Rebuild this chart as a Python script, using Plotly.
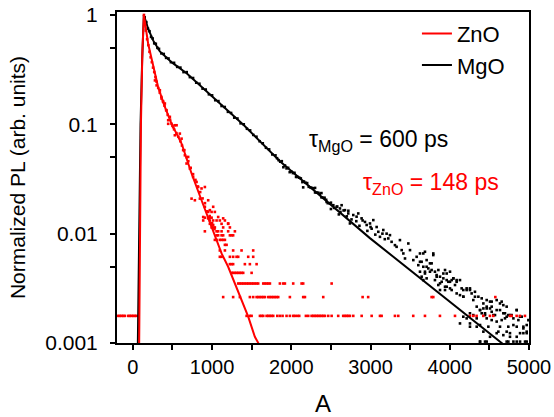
import plotly.graph_objects as go

# ---------------- data ----------------
# Fitted decay curves
zno_fit_x = [80, 90, 102, 120, 139, 193, 256, 319, 404, 489, 615, 741, 867, 994, 1120, 1203, 1351, 1456, 1540, 1582, 1600]
zno_fit_y = [0.001, 0.01, 0.1, 0.45, 1.0, 0.546, 0.333, 0.219, 0.144, 0.101, 0.0667, 0.0355, 0.0202, 0.0115,
             0.00659, 0.00498, 0.00265, 0.00174, 0.00114, 0.001, 0.00095]

mgo_fit_x = [63, 80, 97, 118, 139, 193, 256, 341, 492, 682, 947, 1174, 1402, 1856, 2509, 2992, 4655, 4800]
mgo_fit_y = [0.001, 0.01, 0.1, 0.4, 1.0, 0.748, 0.585, 0.464, 0.368, 0.292, 0.196, 0.138, 0.098, 0.046,
             0.0182, 0.0091, 0.001, 0.00082]

# ZnO measured points: upper band along the decay
zno_band_x = [140, 150, 165, 180, 195, 210, 225, 240, 255, 270, 285, 300, 320, 340, 360, 380, 400, 420, 440,
              470, 500, 520, 550, 575, 600, 620, 650, 680, 700, 730, 760, 790, 820, 850, 880, 910, 940, 970,
              1000, 1030]
zno_band_y = [1.0, 0.9, 0.72, 0.6, 0.53, 0.46, 0.41, 0.37, 0.33, 0.3, 0.27, 0.245, 0.215, 0.195, 0.178, 0.163,
              0.148, 0.135, 0.122, 0.11, 0.097, 0.09, 0.083, 0.077, 0.07, 0.064, 0.058, 0.05, 0.046, 0.04,
              0.035, 0.031, 0.027, 0.024, 0.021, 0.019, 0.016, 0.0145, 0.0125, 0.011]
# ZnO scattered points off the band
zno_scatter_x = [279, 300, 341, 362, 383, 404, 425, 467, 446, 530, 446, 489, 509, 552, 530, 593, 615, 635, 657,
                 698, 678, 720, 761, 804, 824, 867, 909, 741, 783, 846, 951, 909, 972, 1014, 888, 951, 1077,
                 1140, 1014, 1203]
zno_scatter_y = [0.252, 0.227, 0.205, 0.172, 0.16, 0.155, 0.134, 0.117, 0.101, 0.098, 0.109, 0.101, 0.0944,
                 0.098, 0.0794, 0.0822, 0.0739, 0.058, 0.0521, 0.0503, 0.0438, 0.0394, 0.033, 0.0297, 0.0267,
                 0.0259, 0.0267, 0.0209, 0.0202, 0.0209, 0.0202, 0.0176, 0.0164, 0.0176, 0.0142, 0.0138,
                 0.0142, 0.0138, 0.012, 0.0124]
# ZnO low-count points sit on discrete levels
zno_levels = [0.00177, 0.00263, 0.0035, 0.00438, 0.00526, 0.00614, 0.00702, 0.0079, 0.00877, 0.00965,
              0.0105, 0.0114, 0.0123, 0.0132, 0.014, 0.0158]
zno_level_x = [
    [-186, -164, -143, -122, -101, -59, -38, -17, 4, 25, 46, 1436, 1477, 1499, 1604, 1625, 1646, 1688, 1709,
     1730, 1751, 1772, 1823, 1856, 1890, 1940, 1982, 2024, 2045, 2075, 2100, 2184, 2214, 2256, 2277, 2298,
     2319, 2340, 2361, 2382, 2403, 2424, 2466, 2509, 2592, 2655, 2677, 2698, 2718, 2740, 2782, 2888, 3014,
     3119, 3140, 3308, 3350, 3539, 3687, 3876, 4066, 4255, 4297, 4339, 4423, 4507, 4549, 4760, 4781, 4844,
     4886, 4949],
    [1140, 1266, 1351, 1477, 1519, 1562, 1582, 1604, 1625, 1646, 1667, 1709, 1730, 1751, 1772, 1793, 1814,
     1835, 1982, 2150, 2172, 2403, 2900, 2970, 3771, 3792, 4575],
    [1330, 1351, 1372, 1393, 1414, 1436, 1456, 1477, 1499, 1519, 1540, 1562, 1582, 1646, 1667, 1688, 1709,
     1730, 1856, 1898, 1919, 2024, 2130, 2150, 2509],
    [1246, 1266, 1288, 1309, 1330, 1351, 1372, 1393, 1499],
    [1225, 1246, 1266, 1414, 1477, 1562],
    [1098, 1120, 1225, 1266, 1309, 1330, 1456, 1519],
    [1098, 1162, 1266, 1372, 1519],
    [1162, 1183],
    [1035, 1057, 1098, 1120, 1140, 1162],
    [1057, 1077, 1120, 1140, 1225, 1246, 1266],
    [909, 1057, 1077, 1120, 1203, 1288],
    [994, 1014, 1035, 1140, 1225],
    [972, 994, 1120, 1203],
    [888, 972, 1014, 1057, 1098, 1162],
    [909, 951, 972, 994],
    [951, 994, 1035],
]

# MgO measured points: dense band along the decay
mgo_band_x = [150, 170, 190, 210, 230, 250, 270, 290, 310, 330, 360, 390, 420, 450, 480, 520, 560, 600, 640,
              680, 720, 760, 800, 840, 880, 920, 960, 1000, 1040, 1080, 1120, 1160, 1200, 1240, 1280, 1320,
              1360, 1400, 1440, 1480, 1520, 1560, 1600, 1640, 1680, 1720, 1760, 1800, 1840, 1880, 1920, 1960,
              2000, 2040, 2080, 2120, 2160, 2200, 2240, 2280, 2320, 2360, 2400, 2440]
mgo_band_y = [0.95, 0.86, 0.75, 0.71, 0.63, 0.61, 0.55, 0.545, 0.50, 0.49, 0.445, 0.44, 0.405, 0.40, 0.37,
              0.365, 0.335, 0.33, 0.30, 0.30, 0.27, 0.265, 0.24, 0.235, 0.212, 0.208, 0.188, 0.184, 0.166,
              0.163, 0.147, 0.144, 0.130, 0.127, 0.115, 0.113, 0.102, 0.100, 0.091, 0.088, 0.080, 0.077,
              0.070, 0.067, 0.061, 0.059, 0.053, 0.052, 0.047, 0.046, 0.042, 0.040, 0.037, 0.036, 0.033,
              0.032, 0.030, 0.029, 0.0265, 0.026, 0.0237, 0.0232, 0.0213, 0.0204]
# MgO band widening between 1800 and 3200
mgo_band2_x = [1820, 1860, 1900, 1940, 1980, 2020, 2060, 2100, 2140, 2180, 2220, 2260, 2300, 2340, 2380, 2420,
               2460, 2500, 2540, 2580, 2620, 2660, 2700, 2150, 2300, 2380, 2500, 2600, 2720, 2820, 2900, 3000,
               3150, 2760, 2860, 2960, 3060, 3180]
mgo_band2_y = [0.049, 0.0455, 0.0405, 0.0395, 0.0365, 0.0358, 0.033, 0.0325, 0.0296, 0.0292, 0.0268, 0.0262,
               0.0238, 0.0237, 0.0215, 0.0213, 0.0190, 0.0192, 0.0172, 0.0177, 0.0158, 0.0163, 0.0144, 0.0265,
               0.0262, 0.0235, 0.0168, 0.0150, 0.0162, 0.0130, 0.0132, 0.0115, 0.0100, 0.0135, 0.0118,
               0.0106, 0.0098, 0.0089]
# MgO noisy tail
mgo_tail_x = [2446, 2488, 2530, 2572, 2614, 2635, 2677, 2719, 2740, 2782, 2824, 2845, 2887, 2930, 2951, 2993,
              3014, 3035, 3077, 3098, 3119, 3161, 3203, 3224, 3245, 3266, 3308, 3329, 3371, 3393, 3414, 3435,
              3477, 3498, 3540, 3582, 3603, 3624, 3666, 3687, 3708, 3750, 3771, 3792, 3813, 3835, 3856, 3877,
              3919, 3940, 3961, 4003, 4045, 4087, 4024, 4087, 4150, 4171, 4213, 4255, 4297, 4318, 4340, 4382,
              4424, 4445, 4466, 4508, 4529, 4550, 4592, 4634, 4676, 4697, 4718, 4760, 4803, 4845, 4866, 4908,
              4929, 4971, 4992, 4255, 4340, 4424, 4508, 4592, 4676, 4760, 4845, 4929, 4382, 4466, 4718, 4803,
              4887, 4950]
mgo_tail_y = [0.0195, 0.0189, 0.0182, 0.0176, 0.0170, 0.0182, 0.0164, 0.0153, 0.0124, 0.0148, 0.0143, 0.0153,
              0.0138, 0.0128, 0.0120, 0.0124, 0.0111, 0.0133, 0.0115, 0.0104, 0.00935, 0.0108, 0.0100,
              0.00904, 0.00969, 0.00842, 0.00785, 0.00758, 0.00873, 0.00707, 0.00659, 0.00593, 0.00813,
              0.00707, 0.00573, 0.00614, 0.00515, 0.00553, 0.00659, 0.00432, 0.00498, 0.00449, 0.00535,
              0.00637, 0.00376, 0.00404, 0.00465, 0.00351, 0.00432, 0.00327, 0.00376, 0.00363, 0.00390,
              0.00376, 0.00305, 0.00284, 0.00316, 0.00265, 0.00305, 0.00316, 0.00247, 0.00265, 0.00215,
              0.00200, 0.00230, 0.00187, 0.00207, 0.00239, 0.00215, 0.00180, 0.00200, 0.00230, 0.00187,
              0.00168, 0.00215, 0.00180, 0.00146, 0.00200, 0.00162, 0.00174, 0.00136, 0.00127, 0.00162,
              0.00151, 0.00141, 0.00127, 0.00114, 0.00123, 0.00118, 0.00123, 0.00114, 0.00123, 0.00103,
              0.00103, 0.00103, 0.00103, 0.00103, 0.00103]
mgo_tail2_x = [3624, 3687, 3792, 3645, 3708, 3750, 3666, 3729, 3624, 3687, 3771, 3813, 3645, 3708, 3666, 3834,
               3877, 3919, 3940, 3961, 4003, 3898, 3982, 4024, 4045, 4087, 4129, 3855, 3961, 4003, 4066, 3877,
               3940, 4171, 4213, 4255, 4276, 4129, 4171, 4318, 4361, 4403, 4466, 4529, 4592, 4655, 4676, 4466,
               4508, 4424, 4382, 4403, 4445, 4529, 4571, 4634, 4697, 4739, 4781, 4845, 4255, 4297, 4171, 4213,
               4340, 4466, 4529, 4592, 4655, 4718, 4803, 4887, 4129, 4255, 4382, 4487, 4634, 4739, 4845, 4929,
               4971, 4613, 4718, 4887, 4971, 4760, 4382, 4445, 4739, 4845, 4971]
mgo_tail2_y = [0.00659, 0.00683, 0.00659, 0.00553, 0.00573, 0.00535, 0.00498, 0.00481, 0.00449, 0.00449,
               0.00465, 0.00449, 0.00404, 0.00390, 0.00376, 0.00418, 0.00404, 0.00390, 0.00465, 0.00432,
               0.00449, 0.00363, 0.00363, 0.00376, 0.00390, 0.00363, 0.00376, 0.00339, 0.00327, 0.00316,
               0.00339, 0.00305, 0.00305, 0.00305, 0.00316, 0.00305, 0.00284, 0.00274, 0.00265, 0.00294,
               0.00265, 0.00256, 0.00247, 0.00239, 0.00247, 0.00239, 0.00222, 0.00215, 0.00207, 0.00207,
               0.00200, 0.00187, 0.00180, 0.00193, 0.00180, 0.00200, 0.00187, 0.00180, 0.00180, 0.00200,
               0.00187, 0.00180, 0.00174, 0.00168, 0.00168, 0.00168, 0.00162, 0.00157, 0.00162, 0.00174,
               0.00168, 0.00174, 0.00151, 0.00141, 0.00146, 0.00141, 0.00141, 0.00141, 0.00141, 0.00141,
               0.00146, 0.00127, 0.00127, 0.00123, 0.00123, 0.00114, 0.00103, 0.00103, 0.00103, 0.00103,
               0.00103]

x_tickvals = [0, 1000, 2000, 3000, 4000, 5000]
x_minor_tickvals = [500, 1500, 2500, 3500, 4500]
y_tickvals = [0.001, 0.01, 0.1, 1]
y_ticktext = ["0.001", "0.01", "0.1", "1"]
y_minor_tickvals = [0.005, 0.05, 0.5]

# ---------------- build figure ----------------
zno_x = list(zno_band_x) + list(zno_scatter_x)
zno_y = list(zno_band_y) + list(zno_scatter_y)
for lvl, xs in zip(zno_levels, zno_level_x):
    zno_x += xs
    zno_y += [lvl] * len(xs)

mgo_x = list(mgo_band_x) + list(mgo_band2_x) + list(mgo_tail_x) + list(mgo_tail2_x)
mgo_y = list(mgo_band_y) + list(mgo_band2_y) + list(mgo_tail_y) + list(mgo_tail2_y)

FONT = "Liberation Sans, Arial, sans-serif"
RED = "#FF0000"

fig = go.Figure()
fig.add_trace(go.Scatter(x=mgo_x, y=mgo_y, mode="markers", showlegend=False, hoverinfo="skip",
                         marker=dict(symbol="square", size=2.6, color="black", line=dict(width=0))))
fig.add_trace(go.Scatter(x=zno_x, y=zno_y, mode="markers", showlegend=False, hoverinfo="skip",
                         marker=dict(symbol="square", size=2.6, color=RED, line=dict(width=0))))
fig.add_trace(go.Scatter(x=mgo_fit_x, y=mgo_fit_y, mode="lines", name="MgO", legendrank=2,
                         line=dict(color="black", width=2)))
fig.add_trace(go.Scatter(x=zno_fit_x, y=zno_fit_y, mode="lines", name="ZnO", legendrank=1,
                         line=dict(color=RED, width=2)))

axis_common = dict(showline=True, linewidth=2, linecolor="black", mirror=True, showgrid=False,
                   zeroline=False, ticks="outside", ticklen=5, tickwidth=2, tickcolor="black",
                   automargin=False)

fig.update_xaxes(range=[-200, 5000], tickmode="array", tickvals=x_tickvals,
                 tickfont=dict(family=FONT, size=20, color="black"),
                 minor=dict(tickvals=x_minor_tickvals, ticks="outside", ticklen=5, tickwidth=2,
                            tickcolor="black"),
                 title=dict(text="A", font=dict(family=FONT, size=24, color="black"), standoff=22),
                 **axis_common)
fig.update_yaxes(type="log", range=[-3, 0.027], tickmode="array", tickvals=y_tickvals, ticktext=y_ticktext,
                 tickfont=dict(family=FONT, size=21, color="black"), ticklabelstandoff=8,
                 minor=dict(tickvals=y_minor_tickvals, ticks="outside", ticklen=5, tickwidth=2,
                            tickcolor="black"),
                 title=dict(text="Normalized PL (arb. units)", font=dict(family=FONT, size=21, color="black"),
                            standoff=14),
                 **axis_common)

fig.add_annotation(xref="paper", yref="paper", x=0.461, y=0.613, xanchor="left", yanchor="middle",
                   text="τ<sub>MgO</sub> = 600 ps", showarrow=False,
                   font=dict(family=FONT, size=23, color="black"))
fig.add_annotation(xref="paper", yref="paper", x=0.593, y=0.482, xanchor="left", yanchor="middle",
                   text="τ<sub>ZnO</sub> = 148 ps", showarrow=False,
                   font=dict(family=FONT, size=23, color=RED))

fig.update_layout(
    width=554, height=417,
    margin=dict(l=117, r=25, t=12, b=74),
    paper_bgcolor="white", plot_bgcolor="white",
    font=dict(family=FONT, color="black"),
    legend=dict(x=0.728, y=0.998, xanchor="left", yanchor="top", bgcolor="rgba(0,0,0,0)",
                font=dict(family=FONT, size=22, color="black"), tracegroupgap=0),
    showlegend=True,
)

fig.write_html("out.html")
